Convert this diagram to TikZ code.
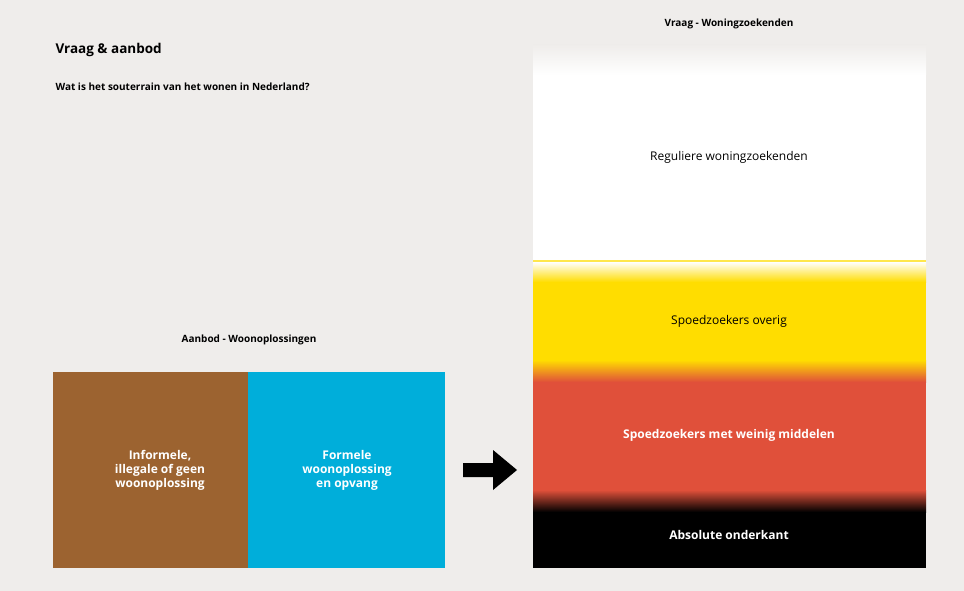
\documentclass[tikz,border=0pt]{standalone}
\usepackage{fontspec}
\setmainfont{Open Sans}
\definecolor{bg}{HTML}{EFEDEB}
\definecolor{brn}{HTML}{9C6330}
\definecolor{blu}{HTML}{00AEDA}
\definecolor{yel}{HTML}{FFDD00}
\definecolor{red}{HTML}{E0503A}
\tikzset{lbl/.style={font=\fontsize{12}{14}\selectfont\bfseries,align=center},
 hd/.style={font=\fontsize{10}{12}\selectfont\bfseries}}
\begin{document}
\begin{tikzpicture}[x=1pt,y=-1pt]
\fill[bg] (0,0) rectangle (964,591);
\useasboundingbox (0,0) rectangle (964,591);
\node[anchor=west,font=\fontsize{13.5}{16}\selectfont\bfseries] (t) at (52,50) {Vraag \& aanbod};
\node[anchor=west,hd] (s) at (52,87) {Wat is het souterrain van het wonen in Nederland?};
\node[hd] (aa) at (249,340) {Aanbod - Woonoplossingen};
\node[hd] (vv) at (729,24) {Vraag - Woningzoekenden};
\fill[brn] (53,372) rectangle (248,568);
\fill[blu] (248,372) rectangle (445,568);
\node[lbl,text=white] (b1) at (160,470) {Informele,\\illegale of geen\\woonoplossing};
\node[lbl,text=white] (b2) at (347,470) {Formele\\woonoplossing\\en opvang};
% right column
\shade[top color=bg,bottom color=white] (533,45) rectangle (926,75);
\fill[white] (533,75) rectangle (926,260);
\fill[yel!70!white] (533,260) rectangle (926,262);
\shade[top color=white,bottom color=yel] (533,262) rectangle (926,282);
\fill[yel] (533,282) rectangle (926,360);
\shade[top color=yel,bottom color=red] (533,360) rectangle (926,382);
\fill[red] (533,382) rectangle (926,490);
\shade[top color=red,bottom color=black] (533,490) rectangle (926,512);
\fill[black] (533,512) rectangle (926,568);
\node[font=\fontsize{12}{14}\selectfont] (r1) at (729,157) {Reguliere woningzoekenden};
\node[font=\fontsize{12}{14}\selectfont] (r2) at (729,321) {Spoedzoekers overig};
\node[lbl,text=white] (r3) at (729,435) {Spoedzoekers met weinig middelen};
\node[lbl,text=white] (r4) at (729,535) {Absolute onderkant};
\coordinate (a1) at (463,470);
\coordinate (a2) at (517,470);
\fill[black] (463,463) -- (493,463) -- (493,450) -- (517,470) -- (493,490) -- (493,477) -- (463,477) -- cycle;
\end{tikzpicture}
\end{document}
